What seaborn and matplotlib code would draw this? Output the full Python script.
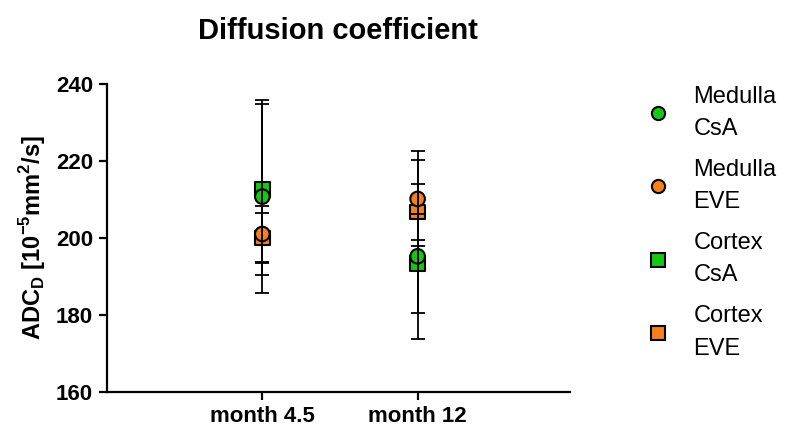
import numpy as np
import pandas as pd
import matplotlib
matplotlib.use('Agg')
import matplotlib.pyplot as plt
from matplotlib.lines import Line2D
import seaborn as sns

# Data
months = ['month 4.5', 'month 12']
groups = ['Medulla\nCsA', 'Medulla\nEVE', 'Cortex\nCsA', 'Cortex\nEVE']

medulla_csa = [210.7, 195.2]
medulla_csa_lo = [185.6, 173.7]
medulla_csa_hi = [234.8, 220.3]

medulla_eve = [201.0, 210.1]
medulla_eve_lo = [193.7, 197.9]
medulla_eve_hi = [208.3, 222.6]

cortex_csa = [212.5, 193.4]
cortex_csa_lo = [190.4, 180.6]
cortex_csa_hi = [235.8, 206.3]

cortex_eve = [200.0, 206.7]
cortex_eve_lo = [193.5, 199.4]
cortex_eve_hi = [206.5, 214.0]

green = '#14C814'
orange = '#F7801A'
colors = {groups[0]: green, groups[1]: orange, groups[2]: green, groups[3]: orange}
markers = {groups[0]: 'o', groups[1]: 'o', groups[2]: 's', groups[3]: 's'}

sns.set_theme(style='ticks')
plt.rcParams['font.family'] = ['Liberation Sans', 'DejaVu Sans']
plt.rcParams['mathtext.fontset'] = 'custom'
plt.rcParams['mathtext.rm'] = 'Liberation Sans'
plt.rcParams['mathtext.bf'] = 'Liberation Sans:bold'
for k in ['text.color', 'axes.labelcolor', 'xtick.color', 'ytick.color', 'axes.edgecolor']:
    plt.rcParams[k] = 'black'

# cortex first so the circles end up on top
series = [
    (groups[2], cortex_csa, cortex_csa_lo, cortex_csa_hi),
    (groups[3], cortex_eve, cortex_eve_lo, cortex_eve_hi),
    (groups[0], medulla_csa, medulla_csa_lo, medulla_csa_hi),
    (groups[1], medulla_eve, medulla_eve_lo, medulla_eve_hi),
]

rows = []
for name, vals, lo, hi in series:
    for m, v, l, h in zip(months, vals, lo, hi):
        rows.append({'month': m, 'group': name, 'value': v, 'lo': l, 'hi': h})
df = pd.DataFrame(rows)

fig = plt.figure(figsize=(7.87, 4.32), dpi=100, facecolor='w')
ax = fig.add_axes([0.136, 0.093, 0.588, 0.713])

sns.scatterplot(data=df, x='month', y='value', hue='group', style='group',
                palette=colors, markers=markers, s=110, edgecolor='black',
                linewidth=1.5, legend=False, ax=ax, zorder=3)

xpos = df['month'].map({m: i for i, m in enumerate(months)})
ax.errorbar(xpos, df['value'], yerr=[df['value'] - df['lo'], df['hi'] - df['value']],
            fmt='none', ecolor='black', elinewidth=1.3, capsize=4.7, capthick=1.3, zorder=4)

ax.set_xlim(-1, 1.98)
ax.set_ylim(160, 240)
ax.set_yticks([160, 180, 200, 220, 240])
ax.set_xticks([0, 1])
ax.set_xticklabels(months)
sns.despine(ax=ax)
for s in ['left', 'bottom']:
    ax.spines[s].set_linewidth(1.6)
ax.tick_params(axis='both', length=6, width=1.6, labelsize=16, pad=4)
for lab in ax.get_xticklabels() + ax.get_yticklabels():
    lab.set_fontweight('bold')
ax.set_xlabel('')
ax.set_ylabel(r'ADC$_\mathbf{D}$ [10$^\mathbf{-5}$mm$^\mathbf{2}$/s]', fontsize=17,
              fontweight='bold', labelpad=6)
ax.set_title('Diffusion coefficient', fontsize=21, fontweight='bold', pad=32)

handles = [Line2D([], [], linestyle='none', marker=markers[g], markersize=9.5,
                  markerfacecolor=colors[g], markeredgecolor='black', markeredgewidth=1.5)
           for g in groups]
leg = fig.legend(handles, groups, loc='upper left', bbox_to_anchor=(0.794, 0.85), frameon=False,
                 fontsize=17, handletextpad=1.0, labelspacing=0.8, handlelength=1.0)
for t in leg.get_texts():
    t.set_linespacing(1.6)

fig.savefig('out.png', dpi=100)
plt.close()
